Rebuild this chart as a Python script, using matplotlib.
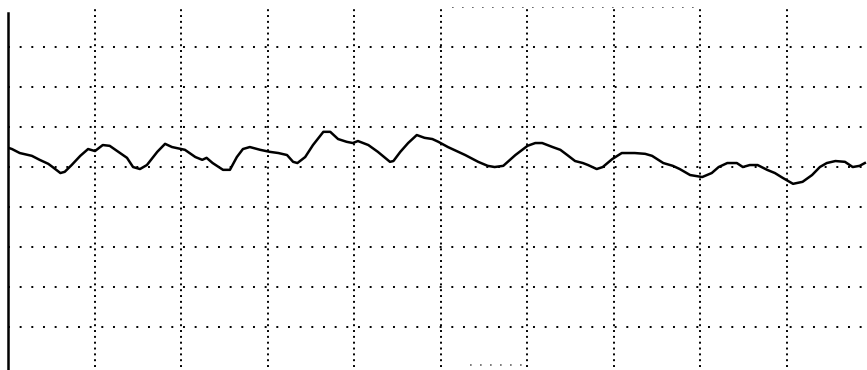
import matplotlib
matplotlib.use("Agg")
import matplotlib.pyplot as plt

# trace, in grid divisions (x: 0..~9.9, y: 0..9)
t = [0.00, 0.04, 0.13, 0.27, 0.36, 0.46, 0.51, 0.60, 0.65, 0.73, 0.83, 0.92,
     1.00, 1.09, 1.17, 1.27, 1.37, 1.44, 1.52, 1.60, 1.72, 1.81, 1.89, 2.04,
     2.16, 2.24, 2.29, 2.36, 2.48, 2.56, 2.64, 2.71, 2.79, 2.91, 3.02, 3.12,
     3.22, 3.29, 3.34, 3.43, 3.52, 3.64, 3.72, 3.81, 3.91, 3.98, 4.04, 4.16,
     4.27, 4.41, 4.45, 4.53, 4.62, 4.72, 4.81, 4.90, 4.97, 5.08, 5.28, 5.43,
     5.54, 5.62, 5.72, 5.86, 6.00, 6.09, 6.17, 6.29, 6.38, 6.46, 6.55, 6.64,
     6.70, 6.80, 6.87, 6.98, 7.09, 7.24, 7.36, 7.44, 7.57, 7.68, 7.76, 7.88,
     8.02, 8.13, 8.21, 8.31, 8.42, 8.49, 8.57, 8.66, 8.77, 8.86, 8.95, 9.07,
     9.18, 9.29, 9.38, 9.46, 9.56, 9.67, 9.76, 9.84, 9.90]
signal = [5.48, 5.45, 5.35, 5.28, 5.18, 5.08, 5.00, 4.85, 4.88, 5.05, 5.28, 5.45,
          5.40, 5.55, 5.53, 5.38, 5.23, 5.00, 4.95, 5.05, 5.38, 5.58, 5.50, 5.43,
          5.25, 5.18, 5.23, 5.10, 4.93, 4.93, 5.25, 5.45, 5.50, 5.43, 5.38, 5.35,
          5.30, 5.13, 5.10, 5.25, 5.55, 5.88, 5.88, 5.70, 5.63, 5.60, 5.65, 5.55,
          5.38, 5.13, 5.15, 5.38, 5.60, 5.80, 5.73, 5.70, 5.63, 5.50, 5.30, 5.13,
          5.03, 5.00, 5.03, 5.30, 5.53, 5.60, 5.60, 5.50, 5.43, 5.30, 5.15, 5.10,
          5.05, 4.95, 5.00, 5.20, 5.35, 5.35, 5.33, 5.28, 5.10, 5.03, 4.95, 4.80,
          4.75, 4.85, 5.00, 5.10, 5.10, 5.00, 5.05, 5.05, 4.93, 4.85, 4.73, 4.58,
          4.63, 4.80, 5.00, 5.10, 5.15, 5.13, 5.00, 5.03, 5.10]

x_grid = [1, 2, 3, 4, 5, 6, 7, 8, 9]
y_grid = [1, 2, 3, 4, 5, 6, 7, 8]

fig = plt.figure(figsize=(8.67, 3.70), dpi=100)
ax = fig.add_axes([0.0098, 0.008, 0.9902, 0.973])
ax.set_xlim(0, 9.925)
ax.set_ylim(0, 9)

for yv in y_grid:
    ax.axhline(yv, color="black", lw=1.4, ls=(0, (1, 5)))
for xv in x_grid:
    ax.axvline(xv, ymin=0.0, ymax=0.995, color="black", lw=1.4, ls=(0, (1, 2)))

# faint partial frame pieces at top and bottom
ax.hlines(9.0, 5.13, 7.99, color="black", lw=1.2, ls=(0, (1, 5)), alpha=0.7)
ax.hlines(0.05, 5.34, 6.0, color="black", lw=1.2, ls=(0, (1, 5)), alpha=0.6)

ax.plot(t, signal, color="black", lw=1.8)

for s in ["top", "right", "bottom"]:
    ax.spines[s].set_visible(False)
ax.spines["left"].set_linewidth(1.8)
ax.spines["left"].set_bounds(-0.2, 8.85)
ax.set_xticks([])
ax.set_yticks([])

fig.savefig("out.png", dpi=100)
